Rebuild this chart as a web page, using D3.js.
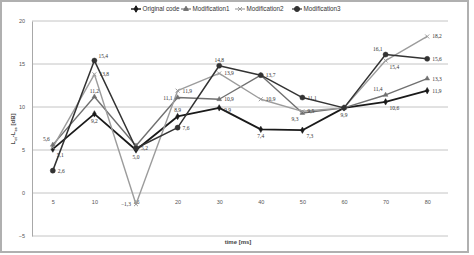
<!DOCTYPE html>
<html>
<head>
<meta charset="utf-8">
<script src="https://cdn.jsdelivr.net/npm/d3@7/dist/d3.min.js"></script>
<style>
  body { margin: 0; background: #fff; }
  svg { display: block; font-family: "Liberation Sans", Arial, sans-serif; }
</style>
</head>
<body>
<div id="chart"></div>
<script>
// categories (time in ms) and series values
var categories = ["5", "10", "15", "20", "30", "40", "50", "60", "70", "80"];
var originalCode  = [5.1, 9.2, 5.0, 8.9, 9.9, 7.4, 7.3, 9.9, 10.6, 11.9];
var modification1 = [5.6, 11.2, 5.5, 11.1, 10.9, 13.7, 9.3, 9.9, 11.4, 13.3];
var modification2 = [5.3, 13.8, -1.3, 11.9, 13.9, 10.9, 9.5, 9.9, 15.4, 18.2];
var modification3 = [2.6, 15.4, 5.2, 7.6, 14.8, 13.7, 11.1, 9.9, 16.1, 15.6];
var yTicks = [-5, 0, 5, 10, 15, 20];
var seriesNames = ["Original code", "Modification1", "Modification2", "Modification3"];

var width = 474, height = 255;
var margin = {top: 21, right: 26, bottom: 19, left: 32};

var locale = d3.formatLocale({decimal: ",", thousands: ".", grouping: [3], currency: ["", ""]});
var fmt = locale.format(".1f");

var svg = d3.select("#chart").append("svg")
    .attr("width", width)
    .attr("height", height);

// outer frame
svg.append("rect")
    .attr("x", 1).attr("y", 1)
    .attr("width", 467).attr("height", 251)
    .attr("fill", "#fff")
    .attr("stroke", "#b0b0b0")
    .attr("stroke-width", 2);

var x = d3.scalePoint()
    .domain(categories)
    .range([margin.left, width - margin.right])
    .padding(0.5);

var y = d3.scaleLinear()
    .domain([-5, 20])
    .range([height - margin.bottom, margin.top]);

// gridlines
svg.append("g")
    .selectAll("line")
    .data(yTicks)
    .enter().append("line")
    .attr("x1", margin.left)
    .attr("x2", width - margin.right)
    .attr("y1", function (d) { return y(d); })
    .attr("y2", function (d) { return y(d); })
    .attr("stroke", "#c4c4c4")
    .attr("stroke-width", 1);

// y axis
var gy = svg.append("g")
    .attr("transform", "translate(" + margin.left + ",0)")
    .call(d3.axisLeft(y).tickValues(yTicks).tickSize(0).tickPadding(7).tickFormat(d3.format("d")));
gy.select(".domain").attr("stroke", "#a8a8a8");
gy.selectAll("text").style("font-size", "5.5px").attr("fill", "#555");

// x axis labels sit under the zero line
var gx = svg.append("g")
    .attr("transform", "translate(0," + y(0) + ")")
    .call(d3.axisBottom(x).tickSize(0).tickPadding(7));
gx.select(".domain").remove();
gx.selectAll("text").style("font-size", "5.5px").attr("fill", "#555");

// axis titles
var yTitle = svg.append("text")
    .attr("transform", "translate(15,129) rotate(-90)")
    .attr("text-anchor", "middle")
    .style("font-size", "6px")
    .style("font-weight", "bold")
    .attr("fill", "#444");
yTitle.append("tspan").text("L");
yTitle.append("tspan").attr("dy", 1.5).style("font-size", "4px").text("ct");
yTitle.append("tspan").attr("dy", -1.5).text("-L");
yTitle.append("tspan").attr("dy", 1.5).style("font-size", "4px").text("cs");
yTitle.append("tspan").attr("dy", -1.5).text(" [dB]");

svg.append("text")
    .attr("x", 238).attr("y", 244)
    .attr("text-anchor", "middle")
    .style("font-size", "6px")
    .style("font-weight", "bold")
    .attr("fill", "#444")
    .text("time [ms]");

// series
var series = [
  {name: seriesNames[0], values: originalCode,  color: "#1a1a1a", width: 1.8, marker: "diamond"},
  {name: seriesNames[1], values: modification1, color: "#707070", width: 1.4, marker: "triangle"},
  {name: seriesNames[2], values: modification2, color: "#9c9c9c", width: 1.4, marker: "cross"},
  {name: seriesNames[3], values: modification3, color: "#333333", width: 1.5, marker: "circle"}
];

function markerPath(type) {
  if (type === "diamond") return d3.symbol().type(d3.symbolDiamond).size(12)();
  if (type === "triangle") return d3.symbol().type(d3.symbolTriangle).size(10)();
  if (type === "cross") return d3.symbol().type(d3.symbolX).size(12)();
  return d3.symbol().type(d3.symbolCircle).size(20)();
}

var line = d3.line()
    .x(function (d, i) { return x(categories[i]); })
    .y(function (d) { return y(d); });

series.forEach(function (s) {
  svg.append("path")
      .datum(s.values)
      .attr("fill", "none")
      .attr("stroke", s.color)
      .attr("stroke-width", s.width)
      .attr("stroke-linejoin", "round")
      .attr("d", line);
});

series.forEach(function (s) {
  svg.append("g").selectAll("path")
      .data(s.values)
      .enter().append("path")
      .attr("d", markerPath(s.marker))
      .attr("transform", function (d, i) { return "translate(" + x(categories[i]) + "," + y(d) + ")"; })
      .attr("fill", s.color)
      .attr("stroke", s.color)
      .attr("stroke-width", s.marker === "cross" ? 1 : 0.5);
});

// data label placement: [dx, dy, anchor] per series and point, null = no label
var R = [5, 2, "start"], B = [0, 9, "middle"], A = [0, -4, "middle"], L = [-5, 2, "end"];
var BR = [4, 8, "start"], AL = [-3, -4, "end"], AR = [4, -3, "start"], BL = [-4, 8, "end"];
var RB = [5, 4, "start"];
var labelPlacement = [
  [BR, B, B, A, RB, B, BR, B, BR, R],
  [AL, A, null, L, R, null, BL, null, AL, R],
  [null, R, L, R, R, R, R, null, BR, R],
  [R, AR, R, R, A, R, R, null, AL, R]
];

series.forEach(function (s, si) {
  var pts = s.values.map(function (v, i) { return {v: v, i: i, p: labelPlacement[si][i]}; })
      .filter(function (d) { return d.p !== null; });
  svg.append("g").selectAll("text")
      .data(pts)
      .enter().append("text")
      .attr("x", function (d) { return x(categories[d.i]) + d.p[0]; })
      .attr("y", function (d) { return y(d.v) + d.p[1]; })
      .attr("text-anchor", function (d) { return d.p[2]; })
      .style("font-family", "'Liberation Serif', 'DejaVu Serif', serif")
      .style("font-size", "5.5px")
      .attr("fill", "#333")
      .text(function (d) { return fmt(d.v); });
});

// legend
var legendX = [131, 181, 235, 292];
var legend = svg.append("g").selectAll("g")
    .data(series)
    .enter().append("g")
    .attr("transform", function (d, i) { return "translate(" + legendX[i] + ",9)"; });
legend.append("line")
    .attr("x1", 0).attr("x2", 10)
    .attr("stroke", function (d) { return d.color; })
    .attr("stroke-width", function (d) { return d.width * 0.8; });
legend.append("path")
    .attr("d", function (d) { return markerPath(d.marker); })
    .attr("transform", "translate(5,0)")
    .attr("fill", function (d) { return d.color; })
    .attr("stroke", function (d) { return d.color; });
legend.append("text")
    .attr("x", 11.5).attr("y", 2.2)
    .style("font-size", "6.3px")
    .attr("fill", "#333")
    .text(function (d) { return d.name; });
</script>
</body>
</html>
